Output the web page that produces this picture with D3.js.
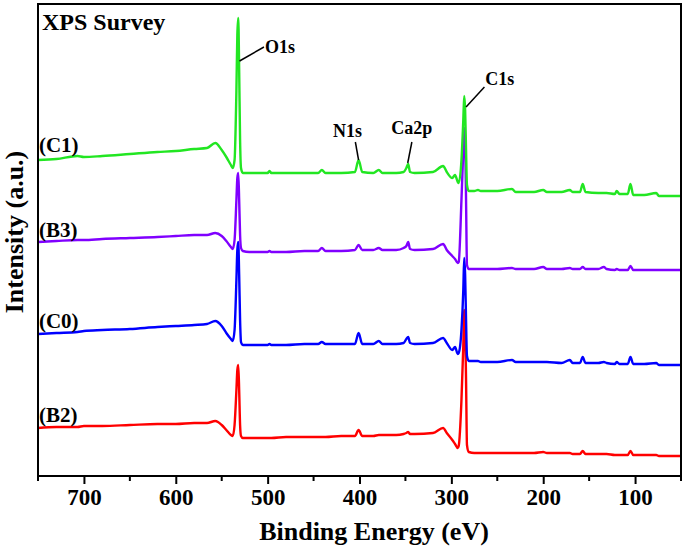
<!DOCTYPE html>
<html>
    <head>
        <meta charset="utf-8">
        <script src="https://cdn.jsdelivr.net/npm/d3@7/dist/d3.min.js"></script>
        <style>
            body { margin: 0; background: #fff; }
            text { font-family: "Liberation Serif", "Times New Roman", serif; font-weight: bold; fill: #000; }
        </style>
    </head>
    <body>
        <svg id="chart" width="685" height="553"></svg>
    </body>
    <script>
        // binding energy grid (eV), shared by all four spectra
        var energy = [
            750, 730, 707, 700, 680, 650, 620, 600, 580, 566,
            557, 550, 545, 540, 538, 536, 534, 533, 532, 531,
            530, 529, 527, 520, 500, 498, 496, 480, 460, 445,
            441, 437, 420, 405, 401, 397, 385, 379, 375, 360,
            352, 349, 347, 345, 340, 320, 309, 305, 299, 296,
            293, 292, 289, 287, 286, 285, 284, 283, 281, 275,
            271, 268, 250, 234, 230, 210, 200, 196, 180, 171,
            168, 160, 157, 154, 140, 134, 131, 122, 120, 117,
            108, 105, 102, 90, 77, 74, 60, 50
        ];
        // intensities (a.u., already stacked with offsets as plotted)
        var C1 = [
            316, 317, 320, 319, 320, 322, 324, 325, 327, 328,
            333, 326, 319, 311, 308, 316, 386, 441, 458, 406,
            336, 308, 303, 303, 303, 305, 303, 303, 303, 303,
            306, 303, 303, 304, 316, 304, 303, 306, 303, 303,
            304, 308, 312, 304, 303, 304, 310, 304, 298, 301,
            294, 293, 316, 356, 380, 366, 326, 291, 285, 285,
            286, 285, 285, 287, 284, 284, 286, 284, 284, 286,
            284, 284, 292, 284, 283, 283, 283, 282, 285, 282,
            282, 292, 281, 281, 283, 280, 280, 280
        ];
        var B3 = [
            234, 235, 236, 236, 237, 238, 239, 240, 241, 241,
            243, 240, 235, 229, 227, 236, 276, 298, 303, 276,
            241, 228, 225, 224, 224, 225, 224, 224, 225, 225,
            228, 225, 225, 226, 231, 226, 226, 228, 226, 226,
            228, 230, 234, 227, 226, 227, 232, 226, 220, 217,
            213, 214, 276, 326, 348, 336, 276, 211, 207, 207,
            207, 207, 207, 208, 207, 207, 209, 207, 207, 208,
            207, 207, 209, 207, 207, 209, 207, 206, 207, 206,
            206, 210, 206, 206, 206, 206, 206, 206
        ];
        var C0 = [
            142, 143, 144, 145, 146, 147, 149, 150, 151, 152,
            155, 150, 143, 137, 135, 146, 196, 226, 234, 201,
            156, 134, 131, 131, 131, 132, 131, 131, 132, 132,
            134, 132, 132, 132, 143, 132, 132, 135, 132, 132,
            133, 137, 139, 133, 132, 133, 138, 133, 126, 129,
            122, 123, 146, 186, 218, 201, 156, 120, 115, 115,
            115, 114, 114, 116, 114, 114, 114, 114, 113, 116,
            113, 113, 119, 113, 113, 114, 113, 112, 114, 112,
            112, 119, 112, 112, 113, 111, 111, 111
        ];
        var B2 = [
            48, 49, 49, 50, 50, 51, 52, 52, 53, 53,
            55, 51, 46, 41, 40, 51, 86, 106, 111, 86,
            51, 40, 38, 38, 38, 38, 38, 39, 39, 39,
            39, 39, 40, 40, 46, 40, 40, 41, 41, 41,
            42, 43, 44, 42, 42, 43, 48, 43, 36, 32,
            28, 30, 76, 130, 166, 150, 96, 31, 24, 23,
            23, 23, 23, 23, 23, 23, 24, 23, 23, 23,
            22, 22, 25, 22, 22, 22, 22, 21, 21, 21,
            21, 25, 21, 21, 21, 20, 20, 20
        ];
        var seriesNames = ["(B2)", "(C0)", "(B3)", "(C1)"];
        var seriesColors = ["#ff0000", "#0000ff", "#8000ff", "#22e622"];
        var labelLevel = [54, 148, 239, 324];
        var xTicks = [700, 600, 500, 400, 300, 200, 100];
        var xMinor = [750, 650, 550, 450, 350, 250, 150, 50];
        // peak annotations: label, peak point, elbow point, text anchor
        var peaks = [
            { name: "O1s",  e0: 530.6, i0: 415, e1: 504, i1: 429, te: 503, ti: 423, anchor: "start" },
            { name: "N1s",  e0: 401,   i0: 316, e1: 404.5, i1: 334, te: 413, ti: 339, anchor: "middle" },
            { name: "Ca2p", e0: 347.5, i0: 313, e1: 343, i1: 334, te: 343, ti: 342, anchor: "middle" },
            { name: "C1s",  e0: 284,   i0: 369, e1: 264, i1: 389, te: 263, ti: 391, anchor: "start" }
        ];

        var allSeries = [B2, C0, B3, C1];
        var padL = 38, padR = 681, padT = 4, padB = 476;

        var svg = d3.select("#chart");
        var x = d3.scaleLinear().domain([750, 50]).range([padL, padR]);
        var y = d3.scaleLinear().domain([0, 472]).range([padB, padT]);

        var line = d3.line()
            .x(function(d){ return x(d[0]); })
            .y(function(d){ return y(d[1]); })
            .curve(d3.curveMonotoneX);

        var g = svg.append("g");
        allSeries.forEach(function(vals, k){
            var pts = energy.map(function(e, i){ return [e, vals[i]]; });
            g.append("path")
                .datum(pts)
                .attr("d", line)
                .attr("fill", "none")
                .attr("stroke", seriesColors[k])
                .attr("stroke-width", 2.4)
                .attr("stroke-linejoin", "round");
        });

        // frame
        svg.append("rect")
            .attr("x", padL).attr("y", padT)
            .attr("width", padR - padL).attr("height", padB - padT)
            .attr("fill", "none").attr("stroke", "#000").attr("stroke-width", 2);

        // x axis
        var xAxis = d3.axisBottom(x).tickValues(xTicks).tickSize(8).tickPadding(5);
        var ax = svg.append("g").attr("transform", "translate(0," + padB + ")").call(xAxis);
        ax.select(".domain").remove();
        ax.selectAll("line").attr("stroke-width", 2);
        ax.selectAll("text").style("font-size", "23px").attr("font-family", null).attr("fill", "#000");
        var minor = svg.append("g").attr("transform", "translate(0," + padB + ")");
        minor.selectAll("line").data(xMinor).enter().append("line")
            .attr("x1", function(d){ return x(d); }).attr("x2", function(d){ return x(d); })
            .attr("y1", 0).attr("y2", 5)
            .attr("stroke", "#000").attr("stroke-width", 2);

        svg.append("text").attr("x", 374).attr("y", 540).attr("text-anchor", "middle")
            .style("font-size", "26px").text("Binding Energy (eV)");
        svg.append("text").attr("transform", "translate(23,232) rotate(-90)").attr("text-anchor", "middle")
            .style("font-size", "26px").text("Intensity (a.u.)");

        svg.append("text").attr("x", 42).attr("y", 30).style("font-size", "24px").text("XPS Survey");

        seriesNames.forEach(function(n, k){
            svg.append("text").attr("x", x(749)).attr("y", y(labelLevel[k]))
                .style("font-size", "21px").text(n);
        });

        peaks.forEach(function(p){
            svg.append("line")
                .attr("x1", x(p.e0)).attr("y1", y(p.i0))
                .attr("x2", x(p.e1)).attr("y2", y(p.i1))
                .attr("stroke", "#000").attr("stroke-width", 1.5);
            svg.append("text").attr("x", x(p.te)).attr("y", y(p.ti))
                .attr("text-anchor", p.anchor)
                .style("font-size", "18px").text(p.name);
        });
    </script>
</html>
